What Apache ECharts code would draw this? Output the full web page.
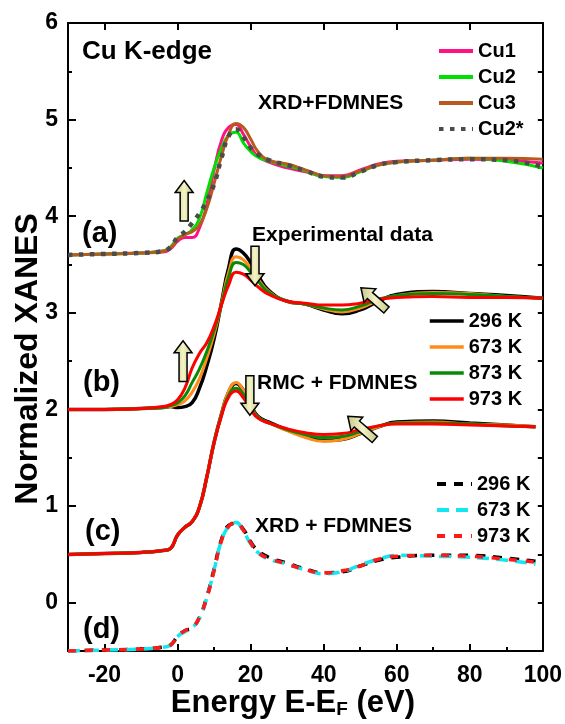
<!DOCTYPE html>
<html>
<head>
<meta charset="utf-8">
<script src="https://cdn.jsdelivr.net/npm/echarts@6/dist/echarts.min.js"></script>
<style>
html,body{margin:0;padding:0;background:#fff;}
#main{width:565px;height:724px;}
</style>
</head>
<body>
<div id="main"></div>
<script>
/******* data *****************************************************************/
// energy grid E-EF (eV)
var energy   = [-30,-20,-10,-4,-2,0,2,4,6,8,10,12,14,16,18,20,22,25,30,35,40,45,50,55,60,70,80,90,100];
var energyCD = [-30,-20,-10,-4,-2,0,2,4,6,8,10,12,14,16,18,20,22,25,30,35,40,45,50,55,60,70,80,90,98];

// (a) XRD + FDMNES, Cu sites
var cu1  = [3.60,3.61,3.62,3.63,3.66,3.74,3.78,3.78,3.88,4.12,4.48,4.78,4.92,4.95,4.85,4.72,4.62,4.56,4.50,4.46,4.42,4.42,4.48,4.54,4.57,4.58,4.59,4.58,4.55];
var cu2  = [3.60,3.61,3.62,3.64,3.68,3.77,3.81,3.86,3.98,4.24,4.50,4.70,4.84,4.87,4.76,4.67,4.61,4.57,4.52,4.47,4.41,4.40,4.46,4.53,4.56,4.58,4.60,4.57,4.50];
var cu3  = [3.60,3.61,3.62,3.64,3.67,3.76,3.81,3.84,3.91,4.08,4.34,4.62,4.85,4.96,4.92,4.80,4.67,4.58,4.54,4.48,4.42,4.41,4.47,4.53,4.56,4.58,4.60,4.60,4.59];
var cu2s = [3.60,3.61,3.62,3.64,3.68,3.78,3.84,3.93,4.03,4.16,4.33,4.60,4.83,4.90,4.82,4.71,4.64,4.58,4.53,4.47,4.41,4.40,4.46,4.53,4.56,4.58,4.59,4.58,4.51];

// (b) experimental data
var exp296 = [2.00,2.00,2.01,2.02,2.03,2.02,2.03,2.07,2.22,2.45,2.73,3.10,3.47,3.66,3.62,3.52,3.39,3.23,3.12,3.09,3.03,2.99,3.03,3.12,3.19,3.22,3.20,3.18,3.15];
var exp673 = [2.00,2.00,2.01,2.02,2.03,2.05,2.09,2.18,2.32,2.53,2.78,3.09,3.42,3.58,3.55,3.46,3.35,3.22,3.12,3.09,3.04,3.01,3.05,3.13,3.18,3.21,3.20,3.17,3.15];
var exp873 = [2.00,2.00,2.01,2.02,2.04,2.07,2.14,2.28,2.42,2.60,2.82,3.08,3.37,3.52,3.50,3.42,3.33,3.21,3.12,3.09,3.05,3.03,3.07,3.14,3.18,3.20,3.19,3.17,3.15];
var exp973 = [2.00,2.00,2.01,2.03,2.05,2.10,2.22,2.43,2.58,2.69,2.86,3.08,3.29,3.42,3.40,3.34,3.27,3.19,3.12,3.10,3.08,3.08,3.10,3.14,3.16,3.17,3.16,3.16,3.15];

// (c) RMC + FDMNES
var rmc296 = [0.50,0.51,0.52,0.54,0.56,0.70,0.78,0.84,0.99,1.30,1.66,1.95,2.18,2.27,2.20,2.05,1.93,1.87,1.79,1.72,1.68,1.69,1.75,1.82,1.87,1.88,1.86,1.84,1.82];
var rmc673 = [0.50,0.51,0.52,0.54,0.56,0.70,0.78,0.84,0.99,1.30,1.66,1.95,2.19,2.28,2.20,2.04,1.92,1.86,1.78,1.71,1.67,1.69,1.75,1.82,1.86,1.87,1.85,1.84,1.82];
var rmc873 = [0.50,0.51,0.52,0.54,0.56,0.70,0.78,0.84,0.99,1.30,1.66,1.94,2.15,2.22,2.16,2.02,1.92,1.86,1.79,1.74,1.71,1.72,1.77,1.83,1.86,1.86,1.85,1.83,1.82];
var rmc973 = [0.50,0.51,0.52,0.54,0.56,0.70,0.78,0.84,0.99,1.30,1.66,1.93,2.13,2.19,2.12,2.00,1.91,1.86,1.80,1.76,1.74,1.75,1.79,1.83,1.85,1.85,1.84,1.83,1.82];

// (d) XRD + FDMNES, temperatures
var xrd296 = [-0.50,-0.49,-0.48,-0.46,-0.44,-0.35,-0.29,-0.26,-0.15,0.06,0.35,0.65,0.80,0.82,0.76,0.63,0.54,0.47,0.41,0.35,0.31,0.32,0.38,0.44,0.47,0.49,0.49,0.46,0.43];
var xrd673 = [-0.50,-0.49,-0.48,-0.46,-0.44,-0.35,-0.30,-0.26,-0.16,0.05,0.34,0.64,0.79,0.83,0.74,0.61,0.52,0.45,0.40,0.34,0.30,0.32,0.39,0.45,0.49,0.48,0.47,0.44,0.40];
var xrd973 = [-0.50,-0.49,-0.48,-0.46,-0.44,-0.35,-0.29,-0.26,-0.15,0.05,0.33,0.64,0.79,0.83,0.75,0.62,0.52,0.46,0.40,0.34,0.31,0.33,0.38,0.45,0.48,0.49,0.48,0.45,0.42];

// tick values
var xMajor = [-20,0,20,40,60,80,100];
var xMinor = [-10,10,30,50,70,90];
var yMajor = [0,1,2,3,4,5,6];
var yMinor = [0.5,1.5,2.5,3.5,4.5,5.5];
var yRight = [0,0.5,1,1.5,2,2.5,3,3.5,4,4.5,5,5.5,6];

// arrows [tailE, tailY, tipE, tipY]
var arrows = [
  [1.8, 3.95, 1.8, 4.37],
  [21.2, 3.69, 21.2, 3.28],
  [1.5, 2.29, 1.5, 2.71],
  [19.8, 2.35, 19.8, 1.94],
  [57.2, 3.03, 50.2, 3.26],
  [54.0, 1.69, 46.6, 1.93]
];

var FONT = "'Liberation Sans', Arial, sans-serif";
var legendNames = {'x296':'296 K','x673':'673 K','x973':'973 K'};

function pairs(xs, ys){
  var res = [];
  for(var i=0;i<xs.length;i++){ res.push([xs[i], ys[i]]); }
  return res;
}

function line(name, xs, ys, color, width, dash){
  return {
    name: name,
    type: 'line',
    data: pairs(xs, ys),
    symbol: 'none',
    smooth: 0.5,
    lineStyle: {color: color, width: width, type: dash || 'solid', cap: 'butt'},
    itemStyle: {color: color},
    emphasis: {disabled: true},
    animation: false
  };
}

var series = [
  line('Cu1', energy, cu1, '#ff1283', 3),
  line('Cu2', energy, cu2, '#00e000', 3),
  line('Cu3', energy, cu3, '#b85a1e', 3),
  line('Cu2*', energy, cu2s, '#4b4b4b', 4.5, [4.5, 6.5]),

  line('296 K', energy, exp296, '#000000', 3.5),
  line('673 K', energy, exp673, '#ff8c1a', 3),
  line('873 K', energy, exp873, '#078a07', 3),
  line('973 K', energy, exp973, '#ff0000', 3),

  line('296 K', energyCD, rmc296, '#000000', 3.5),
  line('673 K', energyCD, rmc673, '#ff8c1a', 3),
  line('873 K', energyCD, rmc873, '#078a07', 3),
  line('973 K', energyCD, rmc973, '#ff0000', 3),

  line('x296', energyCD, xrd296, '#000000', 3.5, [9, 8]),
  line('x673', energyCD, xrd673, '#12e6f0', 3.5, [12, 7]),
  line('x973', energyCD, xrd973, '#ff1a1a', 3.5, [8, 9])
];

var axisLineStyle = {color: '#000', width: 2};
var labelStyle = {fontSize: 23, fontWeight: 'bold', color: '#000', fontFamily: FONT};
var legendText = {fontSize: 20, fontWeight: 'bold', color: '#000', fontFamily: FONT};

var option = {
  backgroundColor: '#fff',
  animation: false,
  grid: {left: 68, right: 22, top: 23, bottom: 70, containLabel: false},
  xAxis: [
    {
      type: 'value', min: -30, max: 100, position: 'bottom',
      axisLine: {onZero: false, lineStyle: axisLineStyle},
      axisTick: {inside: true, length: 7, lineStyle: {width: 2, color: '#000'}, customValues: xMajor},
      axisLabel: Object.assign({customValues: xMajor, margin: 13}, labelStyle),
      splitLine: {show: false},
      name: 'Energy E-E{sub|F} (eV)',
      nameLocation: 'middle',
      nameGap: 36,
      nameMoveOverlap: false,
      nameTextStyle: {
        fontSize: 31, fontWeight: 'bold', color: '#000', fontFamily: FONT, padding: [0, 25, 0, 0],
        rich: {sub: {fontSize: 19, fontWeight: 'bold', color: '#000', fontFamily: FONT, padding: [13, 0, 0, 0]}}
      }
    },
    {
      type: 'value', min: -30, max: 100, position: 'bottom',
      axisLine: {show: false, onZero: false},
      axisTick: {inside: true, length: 4, lineStyle: {width: 2, color: '#000'}, customValues: xMinor},
      axisLabel: {show: false},
      splitLine: {show: false}
    },
    {
      type: 'value', min: -30, max: 100, position: 'top',
      axisLine: {onZero: false, lineStyle: axisLineStyle},
      axisTick: {inside: true, length: 7, lineStyle: {width: 2, color: '#000'}, customValues: xMajor},
      axisLabel: {show: false},
      splitLine: {show: false}
    }
  ],
  yAxis: [
    {
      type: 'value', min: -0.5, max: 6, position: 'left',
      axisLine: {show: true, onZero: false, lineStyle: axisLineStyle},
      axisTick: {show: true, inside: true, length: 8, lineStyle: {width: 2, color: '#000'}, customValues: yMajor},
      axisLabel: Object.assign({customValues: yMajor, margin: 10, padding: [5, 0, 0, 0]}, labelStyle),
      splitLine: {show: false}
    },
    {
      type: 'value', min: -0.5, max: 6, position: 'left',
      axisLine: {show: false, onZero: false},
      axisTick: {show: true, inside: true, length: 4, lineStyle: {width: 2, color: '#000'}, customValues: yMinor},
      axisLabel: {show: false},
      splitLine: {show: false}
    },
    {
      type: 'value', min: -0.5, max: 6, position: 'right',
      axisLine: {show: true, onZero: false, lineStyle: axisLineStyle},
      axisTick: {show: true, inside: true, length: 5, lineStyle: {width: 2, color: '#000'}, customValues: yRight},
      axisLabel: {show: false},
      splitLine: {show: false}
    }
  ],
  legend: [
    {
      orient: 'vertical', left: 432, top: 36, itemWidth: 34, itemHeight: 14, itemGap: 6,
      data: ['Cu1', 'Cu2', 'Cu3', 'Cu2*'], textStyle: legendText, selectedMode: false,
      itemStyle: {opacity: 0}, lineStyle: {width: 4}
    },
    {
      orient: 'vertical', left: 423, top: 306, itemWidth: 34, itemHeight: 14, itemGap: 6,
      data: ['296 K', '673 K', '873 K', '973 K'], textStyle: legendText, selectedMode: false,
      itemStyle: {opacity: 0}, lineStyle: {width: 3.5}
    },
    {
      orient: 'vertical', left: 430, top: 469, itemWidth: 35, itemHeight: 14, itemGap: 6,
      data: ['x296', 'x673', 'x973'], textStyle: legendText, selectedMode: false,
      itemStyle: {opacity: 0}, lineStyle: {width: 4},
      formatter: function(n){ return legendNames[n]; }
    }
  ],
  series: series
};

var chart = echarts.init(document.getElementById('main'), null, {renderer: 'canvas'});
chart.setOption(option);

/****** arrows and text labels ************************************************/
function arrowPoints(p0, p1){
  var dx = p1[0]-p0[0], dy = p1[1]-p0[1];
  var len = Math.sqrt(dx*dx+dy*dy);
  var ux = dx/len, uy = dy/len, nx = -uy, ny = ux;
  var hw = 4, HW = 9, HL = 12;
  var bx = p1[0]-ux*HL, by = p1[1]-uy*HL;
  return [
    [p0[0]+nx*hw, p0[1]+ny*hw],
    [bx+nx*hw, by+ny*hw],
    [bx+nx*HW, by+ny*HW],
    [p1[0], p1[1]],
    [bx-nx*HW, by-ny*HW],
    [bx-nx*hw, by-ny*hw],
    [p0[0]-nx*hw, p0[1]-ny*hw]
  ];
}

var graphics = [];
for(var i=0;i<arrows.length;i++){
  var a = arrows[i];
  var p0 = chart.convertToPixel({xAxisIndex: 0, yAxisIndex: 0}, [a[0], a[1]]);
  var p1 = chart.convertToPixel({xAxisIndex: 0, yAxisIndex: 0}, [a[2], a[3]]);
  graphics.push({
    type: 'polygon',
    shape: {points: arrowPoints(p0, p1)},
    style: {
      fill: {type: 'linear', x: 0, y: 0, x2: 1, y2: 0, colorStops: [
        {offset: 0, color: '#c4c486'}, {offset: 0.5, color: '#f4f4c6'}, {offset: 1, color: '#c4c486'}]},
      stroke: '#000', lineWidth: 1.5
    },
    z: 100
  });
}

function label(txt, x, y, size){
  return {
    type: 'text', x: x, y: y, z: 100,
    style: {text: txt, font: 'bold ' + size + 'px ' + FONT, fill: '#000',
            align: 'left', verticalAlign: 'middle', textAlign: 'left', textVerticalAlign: 'middle'}
  };
}
graphics.push(label('Cu K-edge', 82, 52, 26));
graphics.push(label('XRD+FDMNES', 258, 103, 21));
graphics.push(label('Experimental data', 252, 235, 21));
graphics.push(label('RMC + FDMNES', 257, 383, 21));
graphics.push(label('XRD + FDMNES', 255, 526, 21));
graphics.push(label('(a)', 82, 234, 29));
graphics.push(label('(b)', 83, 383, 29));
graphics.push(label('(c)', 85, 532, 29));
graphics.push(label('(d)', 83, 630, 29));

// y axis title
graphics.push({
  type: 'text', x: 28, y: 359, rotation: Math.PI / 2, z: 100,
  style: {text: 'Normalized XANES', font: 'bold 32px ' + FONT, fill: '#000',
          align: 'center', verticalAlign: 'middle', textAlign: 'center', textVerticalAlign: 'middle'}
});

chart.setOption({graphic: graphics});
</script>
</body>
</html>
